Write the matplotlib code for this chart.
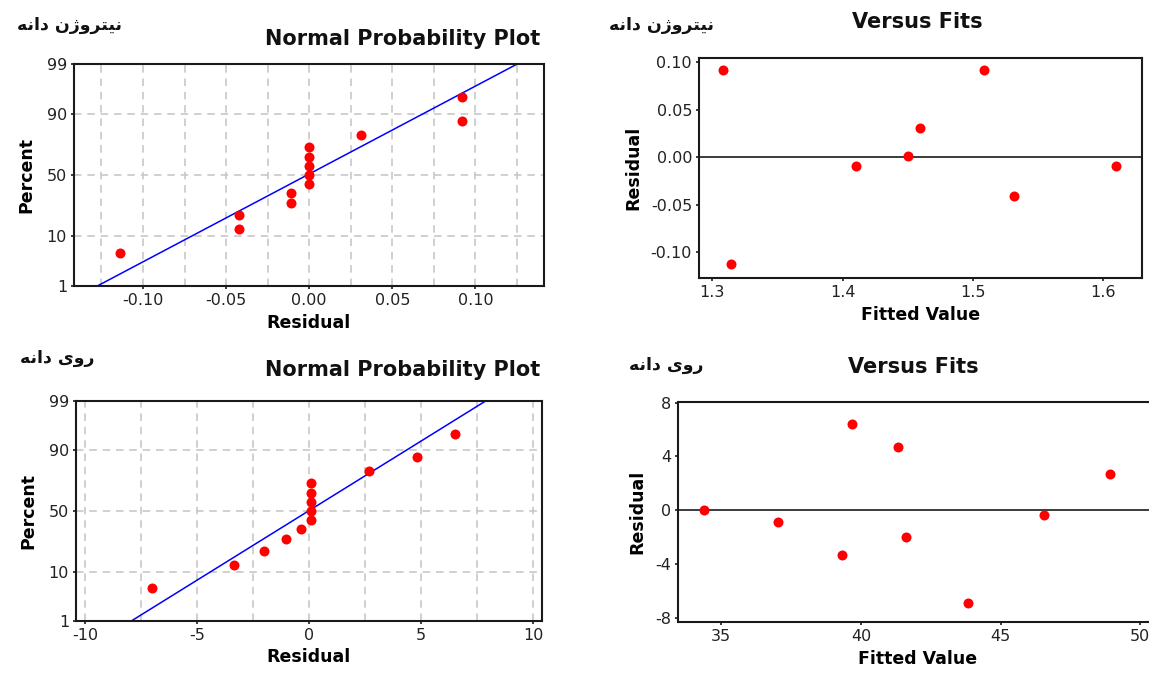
import numpy as np
import matplotlib
matplotlib.use("Agg")
import matplotlib.pyplot as plt
from matplotlib.ticker import FixedLocator, FormatStrFormatter
from statistics import NormalDist

plt.rcParams["font.family"] = ["DejaVu Sans"]
plt.rcParams["axes.unicode_minus"] = False

# Persian panel captions, written in presentation forms in display order
# (matplotlib does no Arabic shaping or bidi on its own).
LABEL_NITROGEN = "\ufeea\ufee7\u0627\u062f \u0646\u0698\u0648\ufeae\ufe98\ufef4\ufee7"   # نیتروژن دانه
LABEL_ZINC = "\ufeea\ufee7\u0627\u062f \u06cc\u0648\u0631"                                 # روی دانه

# Normal probability plots: sorted residuals and their plotting percents
nitro_resid = [-0.114, -0.042, -0.042, -0.011, -0.011, 0.0, 0.0, 0.0, 0.0, 0.0, 0.031, 0.092, 0.092]
zinc_resid = [-7.04, -3.37, -2.01, -1.05, -0.38, 0.06, 0.06, 0.06, 0.06, 0.06, 2.65, 4.82, 6.53]
plot_percent = [5.2, 12.7, 20.1, 27.6, 35.1, 42.5, 50.0, 57.5, 64.9, 72.4, 79.9, 87.3, 94.8]

# fitted normal line, end points at 1 % and 99 %
line_percent = [1, 99]
nitro_line_x = [-0.1275, 0.1252]
zinc_line_x = [-7.95, 7.88]

# residuals versus fits
nitro_fit = [1.3084, 1.3145, 1.4103, 1.4502, 1.4591, 1.5085, 1.5317, 1.6104]
nitro_fit_resid = [0.0921, -0.1128, -0.0091, 0.0014, 0.0309, 0.0921, -0.0411, -0.0091]
zinc_fit = [34.39, 37.03, 39.32, 39.67, 41.33, 41.63, 43.85, 46.56, 48.92]
zinc_fit_resid = [0.0, -0.89, -3.29, 6.39, 4.74, -1.96, -6.87, -0.33, 2.69]

pct_ticks = [1, 10, 50, 90, 99]
nitro_xticks = [-0.10, -0.05, 0.00, 0.05, 0.10]
nitro_xgrid = [-0.125, -0.10, -0.075, -0.05, -0.025, 0.0, 0.025, 0.05, 0.075, 0.10, 0.125]
zinc_xticks = [-10, -5, 0, 5, 10]
zinc_xgrid = [-10, -7.5, -5, -2.5, 0, 2.5, 5, 7.5, 10]
nitro_fit_xticks = [1.3, 1.4, 1.5, 1.6]
nitro_fit_yticks = [-0.10, -0.05, 0.00, 0.05, 0.10]
zinc_fit_xticks = [35, 40, 45, 50]
zinc_fit_yticks = [-8, -4, 0, 4, 8]

W, H = 1149, 677
_nd = NormalDist()
_ppf = np.vectorize(lambda v: _nd.inv_cdf(v / 100.0), otypes=[float])
_cdf = np.vectorize(lambda v: 100.0 * _nd.cdf(v), otypes=[float])


def prob_fwd(p):
    return _ppf(np.clip(np.asarray(p, float), 1e-4, 100 - 1e-4))


def prob_inv(z):
    return _cdf(np.asarray(z, float))


def box(px_left, px_top, px_right, px_bottom):
    return [px_left / W, 1 - px_bottom / H, (px_right - px_left) / W, (px_bottom - px_top) / H]


def style(ax):
    for sp in ax.spines.values():
        sp.set_color("#1a1a1a")
        sp.set_linewidth(1.5)
    ax.tick_params(which="major", direction="out", length=2.5, width=1.2,
                   labelsize=11.5, colors="#1a1a1a", pad=2.5, labelcolor="#222222")
    ax.tick_params(which="minor", length=0)


def prob_panel(rect, resid, line_x, xlim, xticks, xgrid, fmt):
    ax = fig.add_axes(rect)
    ax.set_yscale("function", functions=(prob_fwd, prob_inv))
    ax.set_ylim(1, 99)
    ax.set_xlim(*xlim)
    for g in xgrid:
        ax.axvline(g, color="#c8c8c8", lw=1.2, ls=(0, (4.5, 3.5)), zorder=0)
    for g in pct_ticks[1:-1]:
        ax.axhline(g, color="#c8c8c8", lw=1.2, ls=(0, (4.5, 3.5)), zorder=0)
    ax.plot(line_x, line_percent, color="#0000ff", lw=1.1, zorder=2)
    ax.plot(resid, plot_percent, "o", color="#ff0000", ms=7.2, mec="none", zorder=3)
    ax.yaxis.set_major_locator(FixedLocator(pct_ticks))
    ax.yaxis.set_major_formatter(FormatStrFormatter("%d"))
    ax.yaxis.set_minor_locator(FixedLocator([]))
    ax.xaxis.set_major_locator(FixedLocator(xticks))
    ax.xaxis.set_major_formatter(FormatStrFormatter(fmt))
    style(ax)
    ax.set_ylabel("Percent", fontsize=12.5, fontweight="bold", labelpad=8)
    ax.set_xlabel("Residual", fontsize=12.5, fontweight="bold", labelpad=4)
    return ax


def fits_panel(rect, fit, resid, xlim, ylim, xticks, yticks, xfmt, yfmt):
    ax = fig.add_axes(rect)
    ax.set_xlim(*xlim)
    ax.set_ylim(*ylim)
    ax.axhline(0, color="#1a1a1a", lw=1.2, zorder=1)
    ax.plot(fit, resid, "o", color="#ff0000", ms=7.2, mec="none", zorder=3)
    ax.xaxis.set_major_locator(FixedLocator(xticks))
    ax.yaxis.set_major_locator(FixedLocator(yticks))
    ax.xaxis.set_major_formatter(FormatStrFormatter(xfmt))
    ax.yaxis.set_major_formatter(FormatStrFormatter(yfmt))
    style(ax)
    ax.set_ylabel("Residual", fontsize=12.5, fontweight="bold", labelpad=6)
    ax.set_xlabel("Fitted Value", fontsize=12.5, fontweight="bold", labelpad=4)
    return ax


fig = plt.figure(figsize=(W / 100, H / 100), dpi=100, facecolor="white")

prob_panel(box(74, 64, 544, 286), nitro_resid, nitro_line_x, (-0.1415, 0.1413),
           nitro_xticks, nitro_xgrid, "%.2f")
prob_panel(box(76, 401, 542, 621), zinc_resid, zinc_line_x, (-10.42, 10.40),
           zinc_xticks, zinc_xgrid, "%d")
fits_panel(box(699, 58, 1142, 278), nitro_fit, nitro_fit_resid, (1.2897, 1.630),
           (-0.127, 0.1044), nitro_fit_xticks, nitro_fit_yticks, "%.1f", "%.2f")
fits_panel(box(678, 402, 1157, 622), zinc_fit, zinc_fit_resid, (33.45, 50.6),
           (-8.3, 8.05), zinc_fit_xticks, zinc_fit_yticks, "%d", "%d")

title_kw = dict(fontsize=15, fontweight="bold", color="#111111", va="center")
fig.text(540 / W, 1 - 39 / H, "Normal Probability Plot", ha="right", **title_kw)
fig.text(540 / W, 1 - 370 / H, "Normal Probability Plot", ha="right", **title_kw)
fig.text(917 / W, 1 - 22 / H, "Versus Fits", ha="center", **title_kw)
fig.text(913 / W, 1 - 367 / H, "Versus Fits", ha="center", **title_kw)

fa_kw = dict(fontsize=12.5, fontweight="bold", color="#111111", va="center", ha="left")
fig.text(17 / W, 1 - 25 / H, LABEL_NITROGEN, **fa_kw)
fig.text(609 / W, 1 - 25 / H, LABEL_NITROGEN, **fa_kw)
fig.text(20 / W, 1 - 358 / H, LABEL_ZINC, **fa_kw)
fig.text(629 / W, 1 - 365 / H, LABEL_ZINC, **fa_kw)

fig.savefig("out.png", dpi=100, facecolor="white")
